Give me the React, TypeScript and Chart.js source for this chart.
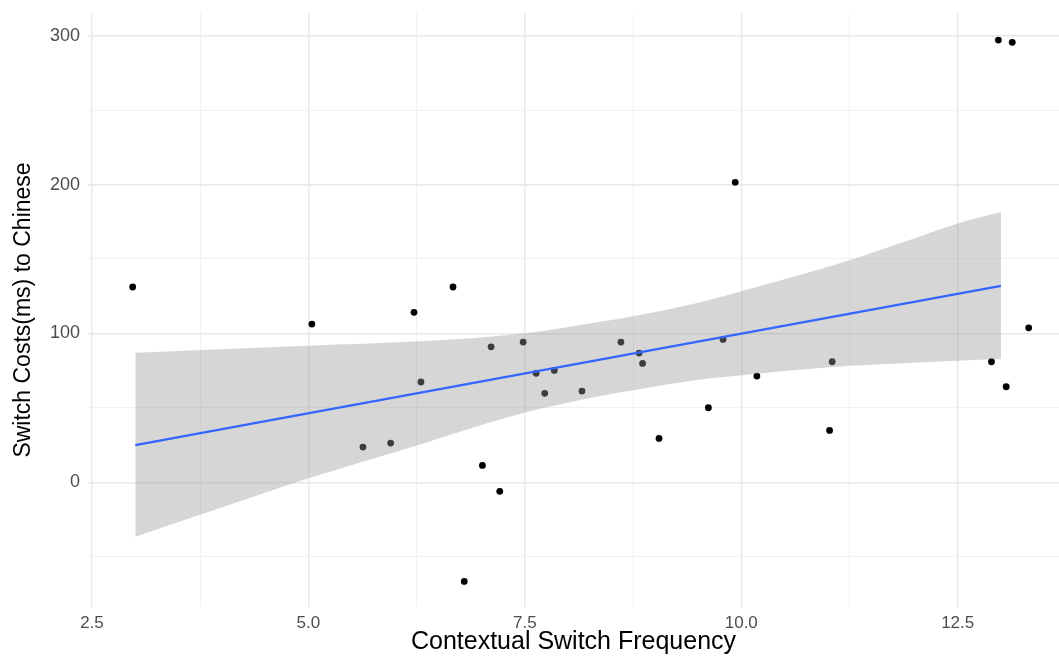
import React, { useEffect, useRef } from "react";
import { Chart, registerables } from "chart.js";
Chart.register(...registerables);

// Observations: contextual switch frequency (x) vs switch cost in ms (y)
const switchFreq = [2.97, 5.04, 5.63, 5.95, 6.22, 6.3, 6.67, 7.01, 7.11, 7.21, 6.8, 7.48, 7.63, 7.73, 7.84, 8.16, 8.61, 8.82, 8.86, 9.05, 9.62, 9.79, 9.93, 10.18, 11.02, 11.05, 12.89, 12.97, 13.06, 13.13, 13.32];
const switchCost = [131.2, 106.3, 23.7, 26.4, 114.2, 67.4, 131.2, 11.4, 91.0, -6.0, -66.5, 94.2, 73.2, 59.8, 75.2, 61.3, 94.2, 86.8, 79.9, 29.5, 50.1, 96.0, 201.5, 71.4, 34.9, 81.0, 81.0, 297.0, 64.2, 295.5, 103.8];

// Fitted regression line
const fitX = [3.0, 13.0];
const fitY = [25.0, 132.0];

// Confidence band edges
const bandX = [3.0, 3.98, 5.0, 6.29, 7.48, 8.37, 8.75, 9.53, 10.01, 11.26, 11.83, 12.5, 13.0];
const bandUpper = [87.0, 89.4, 91.8, 94.7, 100.0, 107.8, 111.6, 121.0, 128.5, 149.3, 160.5, 173.9, 181.5];
const bandLower = [-36.5, -17.3, 2.7, 25.5, 46.5, 58.0, 61.8, 69.0, 72.0, 78.3, 79.9, 81.7, 82.8];

// Ticks
const xMajorTicks = [2.5, 5.0, 7.5, 10.0, 12.5];
const xMinorTicks = [3.75, 6.25, 8.75, 11.25];
const yMajorTicks = [0, 100, 200, 300];
const yMinorTicks = [-50, 50, 150, 250];

const X_MIN = 2.454;
const X_MAX = 13.67;
const Y_MIN = -83.7;
const Y_MAX = 315.2;

const FONT = "'Liberation Sans', Arial, Helvetica, sans-serif";

export default function App() {
  const canvasRef = useRef<HTMLCanvasElement | null>(null);

  useEffect(() => {
    if (!canvasRef.current) return;
    const xTicksAll = [...xMajorTicks, ...xMinorTicks].sort((a, b) => a - b);
    const yTicksAll = [...yMajorTicks, ...yMinorTicks].sort((a, b) => a - b);

    const gridColor = (major: number[]) => (ctx: any) =>
      major.includes(ctx.tick?.value) ? "#e8e8e8" : "#f1f1f1";
    const gridWidth = (major: number[]) => (ctx: any) =>
      major.includes(ctx.tick?.value) ? 1.4 : 1;

    const chart = new Chart(canvasRef.current, {
      type: "scatter",
      data: {
        datasets: [
          {
            label: "fit",
            data: fitX.map((x, i) => ({ x, y: fitY[i] })),
            showLine: true,
            borderColor: "#3366FF",
            borderWidth: 2.3,
            pointRadius: 0,
            fill: false,
          },
          {
            label: "upper",
            data: bandX.map((x, i) => ({ x, y: bandUpper[i] })),
            showLine: true,
            borderWidth: 0,
            borderColor: "rgba(0,0,0,0)",
            pointRadius: 0,
            cubicInterpolationMode: "monotone",
            backgroundColor: "rgba(153,153,153,0.4)",
            fill: "+1",
          },
          {
            label: "lower",
            data: bandX.map((x, i) => ({ x, y: bandLower[i] })),
            showLine: true,
            borderWidth: 0,
            borderColor: "rgba(0,0,0,0)",
            pointRadius: 0,
            cubicInterpolationMode: "monotone",
            fill: false,
          },
          {
            label: "points",
            data: switchFreq.map((x, i) => ({ x, y: switchCost[i] })),
            showLine: false,
            pointRadius: 3.4,
            pointBackgroundColor: "#000",
            pointBorderWidth: 0,
            backgroundColor: "#000",
          },
        ],
      },
      options: {
        animation: false,
        responsive: true,
        maintainAspectRatio: false,
        layout: { autoPadding: false, padding: { top: 13, left: 0, right: 0, bottom: 0 } },
        plugins: {
          legend: { display: false },
          tooltip: { enabled: false },
        },
        scales: {
          x: {
            type: "linear",
            min: X_MIN,
            max: X_MAX,
            afterBuildTicks: (s: any) => {
              s.ticks = xTicksAll.map((v) => ({ value: v }));
            },
            afterFit: (s: any) => {
              s.height = 50;
              s.paddingLeft = 0;
              s.paddingRight = 0;
            },
            ticks: {
              autoSkip: false,
              maxRotation: 0,
              padding: 6,
              color: "#4d4d4d",
              font: { family: FONT, size: 17 },
              callback: (v: any) => (xMajorTicks.includes(v) ? Number(v).toFixed(1) : ""),
            },
            grid: {
              color: gridColor(xMajorTicks),
              lineWidth: gridWidth(xMajorTicks),
              drawTicks: false,
            },
            border: { display: false },
            title: {
              display: true,
              text: "Contextual Switch Frequency",
              color: "#000",
              font: { family: FONT, size: 25 },
              padding: { top: 0, bottom: 0 },
            },
          },
          y: {
            type: "linear",
            min: Y_MIN,
            max: Y_MAX,
            afterBuildTicks: (s: any) => {
              s.ticks = yTicksAll.map((v) => ({ value: v }));
            },
            afterFit: (s: any) => {
              s.width = 88;
              s.paddingTop = 0;
              s.paddingBottom = 0;
            },
            ticks: {
              autoSkip: false,
              padding: 8,
              color: "#4d4d4d",
              font: { family: FONT, size: 18 },
              callback: (v: any) => (yMajorTicks.includes(v) ? String(v) : ""),
            },
            grid: {
              color: gridColor(yMajorTicks),
              lineWidth: gridWidth(yMajorTicks),
              drawTicks: false,
            },
            border: { display: false },
            title: {
              display: true,
              text: "Switch Costs(ms) to Chinese",
              color: "#000",
              font: { family: FONT, size: 23 },
              padding: { top: 10, bottom: 0 },
            },
          },
        },
      },
    } as any);

    return () => chart.destroy();
  }, []);

  return (
    <div style={{ position: "absolute", left: 0, top: 0, width: 1059, height: 657, background: "#fff", overflow: "hidden" }}>
      <canvas ref={canvasRef} style={{ display: "block" }} />
    </div>
  );
}
